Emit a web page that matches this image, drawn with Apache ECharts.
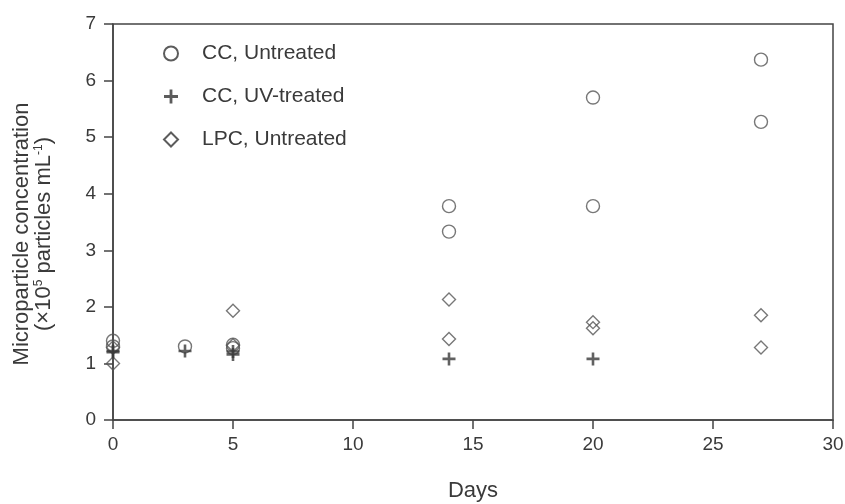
<!DOCTYPE html>
<html><head><meta charset="utf-8">
<script src="https://cdn.jsdelivr.net/npm/echarts@6/dist/echarts.min.js"></script>
<style>html,body{margin:0;padding:0;background:#fff}#c{width:845px;height:504px}</style>
</head><body><div id="c"></div>
<script>
const seriesNames = ['CC, Untreated', 'CC, UV-treated', 'LPC, Untreated'];
const ccUntreated = [[0,1.40],[0,1.30],[3,1.30],[5,1.33],[5,1.27],[14,3.78],[14,3.33],[20,5.70],[20,3.78],[27,6.37],[27,5.27]];
const ccUV = [[0,1.22],[0,1.20],[3,1.22],[5,1.21],[5,1.16],[14,1.08],[20,1.08]];
const lpcUntreated = [[0,1.00],[0,1.28],[5,1.93],[5,1.32],[14,2.13],[14,1.43],[20,1.73],[20,1.62],[27,1.85],[27,1.28]];
const xTicks = [0,5,10,15,20,25,30];
const yTicks = [0,1,2,3,4,5,6,7];

const stroke = '#555';
const plusPath = 'path://M4,0H6V4H10V6H6V10H4V6H0V4H4Z';
const font = 'Liberation Sans, Arial, sans-serif';
const txt = '#3a3a3a';

const chart = echarts.init(document.getElementById('c'), null, {renderer:'canvas'});
chart.setOption({
  animation: false,
  backgroundColor: '#fff',
  grid: {left: 113, right: 12, top: 24, bottom: 84, containLabel: false, outerBoundsMode: 'none',
         show: true, borderColor: '#444', borderWidth: 1.5, backgroundColor:'transparent'},
  legend: {
    orient: 'vertical', left: 158, top: 38, itemWidth: 14, itemHeight: 14, itemGap: 22,
    textStyle: {fontFamily: font, fontSize: 21, color: txt, padding: [0,0,0,19]},
    data: [
      {name: seriesNames[0], icon: 'circle', itemStyle: {color: '#fff', borderColor: '#333', borderWidth: 2}},
      {name: seriesNames[1], icon: plusPath, itemStyle: {color: '#333', borderWidth: 0}},
      {name: seriesNames[2], icon: 'diamond', itemStyle: {color: '#fff', borderColor: '#333', borderWidth: 2}}
    ]
  },
  xAxis: {
    type: 'value', min: xTicks[0], max: xTicks[xTicks.length-1], interval: 5,
    name: 'Days', nameLocation: 'middle', nameGap: 60,
    nameTextStyle: {fontFamily: font, fontSize: 22, color: txt},
    axisLine: {show: true, lineStyle: {color: '#444', width: 1.5}},
    axisTick: {show: true, inside: false, length: 9, lineStyle: {color: '#444', width: 1.5}},
    axisLabel: {fontFamily: font, fontSize: 19, color: txt, margin: 15},
    splitLine: {show: false}
  },
  yAxis: {
    type: 'value', min: yTicks[0], max: yTicks[yTicks.length-1], interval: 1,
    name: '{t|Microparticle concentration}\n{t|(×10}{s|5}{t| particles mL}{s|-1}{t|)}',
    nameLocation: 'middle', nameGap: 58, nameRotate: 90,
    nameTextStyle: {fontFamily: font, fontSize: 22, color: txt, align: 'center', lineHeight: 22, padding: [0,24,0,0],
      rich: {t: {fontFamily: font, fontSize: 22, color: txt, lineHeight: 22},
             s: {fontFamily: font, fontSize: 12, color: txt, verticalAlign: 'top', lineHeight: 22, padding: [0,0,10,0]}}},
    axisLine: {show: true, lineStyle: {color: '#444', width: 1.5}},
    axisTick: {show: true, inside: false, length: 9, lineStyle: {color: '#444', width: 1.5}},
    axisLabel: {fontFamily: font, fontSize: 19, color: txt, margin: 17},
    splitLine: {show: false}
  },
  series: [
    {name: seriesNames[0], type: 'scatter', data: ccUntreated, symbol: 'circle', symbolSize: 13,
     itemStyle: {color: 'rgba(255,255,255,0)', borderColor: stroke, borderWidth: 1.4}, z: 3},
    {name: seriesNames[1], type: 'scatter', data: ccUV, symbol: plusPath, symbolSize: 13,
     itemStyle: {color: '#3a3a3a', borderWidth: 0}, z: 4},
    {name: seriesNames[2], type: 'scatter', data: lpcUntreated, symbol: 'diamond', symbolSize: [13,13],
     itemStyle: {color: 'rgba(255,255,255,0)', borderColor: stroke, borderWidth: 1.4}, z: 2}
  ]
});
</script></body></html>
